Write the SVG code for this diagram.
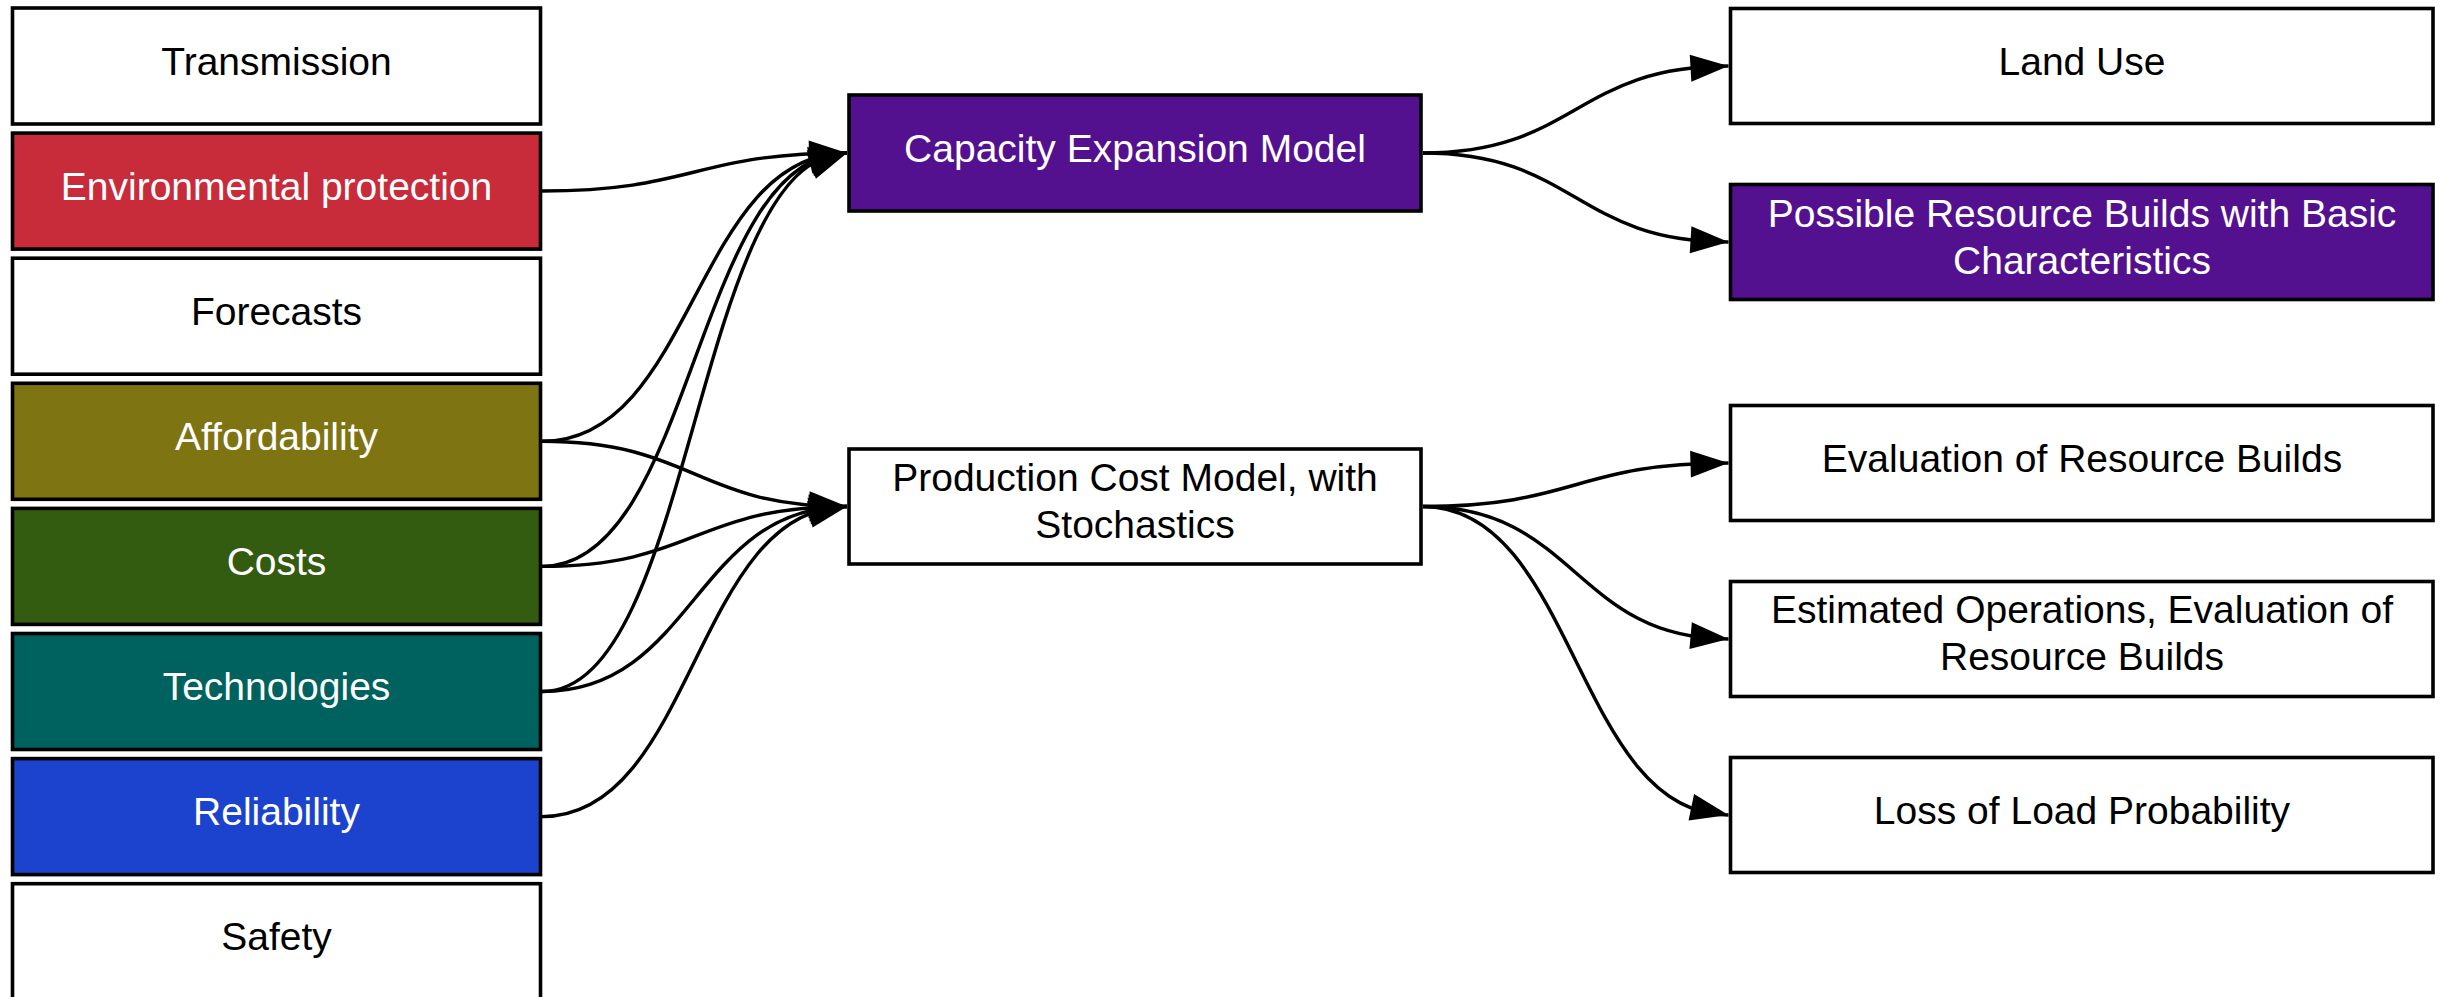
<svg xmlns="http://www.w3.org/2000/svg" xmlns:xlink="http://www.w3.org/1999/xlink" width="2445" height="997" viewBox="0 0 2445 997">
  <style>
    .box { stroke: #000; stroke-width: 3.6; }
    .plain { fill: #fff; }
    .red { fill: #C82C3A; }
    .olive { fill: #7E7411; }
    .green { fill: #345C10; }
    .teal { fill: #00625F; }
    .blue { fill: #1C43CE; }
    .purple { fill: #53118F; }
    text { font-family: "Liberation Sans", Arial, sans-serif; font-size: 39px; text-anchor: middle; }
    .dark { fill: #000; }
    .light { fill: #fff; }
    .link { fill: none; stroke: #000; stroke-width: 3.4; }
  </style>
  <defs>
    <!-- arrowhead, tip at the origin, pointing along +x -->
    <path id="ah" d="M0,0 L-38,-13.5 L-38,13.5 Z" fill="#000"/>
  </defs>
  <rect width="2445" height="997" fill="#fff"/>

  <!-- input factors -->
  <g id="transmission">
    <rect class="box plain" x="12.5" y="8" width="528" height="116"/>
    <text class="dark" x="276.5" y="74.5">Transmission</text>
  </g>
  <g id="environmental-protection">
    <rect class="box red" x="12.5" y="133.1" width="528" height="116"/>
    <text class="light" x="276.5" y="199.6">Environmental protection</text>
  </g>
  <g id="forecasts">
    <rect class="box plain" x="12.5" y="258.2" width="528" height="116"/>
    <text class="dark" x="276.5" y="324.7">Forecasts</text>
  </g>
  <g id="affordability">
    <rect class="box olive" x="12.5" y="383.3" width="528" height="116"/>
    <text class="light" x="276.5" y="449.8">Affordability</text>
  </g>
  <g id="costs">
    <rect class="box green" x="12.5" y="508.4" width="528" height="116"/>
    <text class="light" x="276.5" y="574.9">Costs</text>
  </g>
  <g id="technologies">
    <rect class="box teal" x="12.5" y="633.5" width="528" height="116"/>
    <text class="light" x="276.5" y="700">Technologies</text>
  </g>
  <g id="reliability">
    <rect class="box blue" x="12.5" y="758.6" width="528" height="116"/>
    <text class="light" x="276.5" y="825.1">Reliability</text>
  </g>
  <g id="safety">
    <rect class="box plain" x="12.5" y="883.7" width="528" height="116"/>
    <text class="dark" x="276.5" y="950.2">Safety</text>
  </g>

  <!-- models -->
  <g id="capacity-expansion-model">
    <rect class="box purple" x="849" y="95" width="572" height="116"/>
    <text class="light" x="1135" y="161.5">Capacity Expansion Model</text>
  </g>
  <g id="production-cost-model">
    <rect class="box plain" x="849" y="449" width="572" height="115"/>
    <text class="dark" x="1135" y="490.5">Production Cost Model, with</text>
    <text class="dark" x="1135" y="537.5">Stochastics</text>
  </g>

  <!-- outputs -->
  <g id="land-use">
    <rect class="box plain" x="1730.5" y="8.5" width="702.5" height="115"/>
    <text class="dark" x="2082" y="74.5">Land Use</text>
  </g>
  <g id="possible-resource-builds">
    <rect class="box purple" x="1730.5" y="184.5" width="702.5" height="115"/>
    <text class="light" x="2082" y="226.5">Possible Resource Builds with Basic</text>
    <text class="light" x="2082" y="273.5">Characteristics</text>
  </g>
  <g id="evaluation-of-resource-builds">
    <rect class="box plain" x="1730.5" y="405.5" width="702.5" height="115"/>
    <text class="dark" x="2082" y="471.5">Evaluation of Resource Builds</text>
  </g>
  <g id="estimated-operations">
    <rect class="box plain" x="1730.5" y="581.5" width="702.5" height="115"/>
    <text class="dark" x="2082" y="622.5">Estimated Operations, Evaluation of</text>
    <text class="dark" x="2082" y="669.5">Resource Builds</text>
  </g>
  <g id="loss-of-load-probability">
    <rect class="box plain" x="1730.5" y="757.5" width="702.5" height="115"/>
    <text class="dark" x="2082" y="823.5">Loss of Load Probability</text>
  </g>

  <!-- connectors -->
  <g id="connectors">
    <g id="env-to-cem">
      <path class="link" d="M542,191 C694.5,191 694.5,153 847,153"/>
      <use xlink:href="#ah" transform="translate(847,153) rotate(-1.5)"/>
    </g>
    <g id="aff-to-cem">
      <path class="link" d="M542,441.3 C694.5,441.3 694.5,153 847,153"/>
      <use xlink:href="#ah" transform="translate(847,153) rotate(-11)"/>
    </g>
    <g id="costs-to-cem">
      <path class="link" d="M542,566.4 C694.5,566.4 694.5,153 847,153"/>
      <use xlink:href="#ah" transform="translate(847,153) rotate(-15.6)"/>
    </g>
    <g id="tech-to-cem">
      <path class="link" d="M542,691.5 C694.5,691.5 694.5,153 847,153"/>
      <use xlink:href="#ah" transform="translate(847,153) rotate(-20)"/>
    </g>
    <g id="aff-to-pcm">
      <path class="link" d="M542,441.3 C694.5,441.3 694.5,506.5 847,506.5"/>
      <use xlink:href="#ah" transform="translate(847,506.5) rotate(2.5)"/>
    </g>
    <g id="costs-to-pcm">
      <path class="link" d="M542,566.4 C694.5,566.4 694.5,506.5 847,506.5"/>
      <use xlink:href="#ah" transform="translate(847,506.5) rotate(-2.3)"/>
    </g>
    <g id="tech-to-pcm">
      <path class="link" d="M542,691.5 C694.5,691.5 694.5,506.5 847,506.5"/>
      <use xlink:href="#ah" transform="translate(847,506.5) rotate(-7.1)"/>
    </g>
    <g id="rel-to-pcm">
      <path class="link" d="M542,816.6 C694.5,816.6 694.5,506.5 847,506.5"/>
      <use xlink:href="#ah" transform="translate(847,506.5) rotate(-11.8)"/>
    </g>
    <g id="cem-to-land">
      <path class="link" d="M1423,153 C1575.75,153 1575.75,66 1728.5,66"/>
      <use xlink:href="#ah" transform="translate(1728.5,66) rotate(-3.4)"/>
    </g>
    <g id="cem-to-builds">
      <path class="link" d="M1423,153 C1575.75,153 1575.75,242 1728.5,242"/>
      <use xlink:href="#ah" transform="translate(1728.5,242) rotate(3.5)"/>
    </g>
    <g id="pcm-to-eval">
      <path class="link" d="M1423,506.5 C1575.75,506.5 1575.75,463 1728.5,463"/>
      <use xlink:href="#ah" transform="translate(1728.5,463) rotate(-1.7)"/>
    </g>
    <g id="pcm-to-ops">
      <path class="link" d="M1423,506.5 C1575.75,506.5 1575.75,639 1728.5,639"/>
      <use xlink:href="#ah" transform="translate(1728.5,639) rotate(5.1)"/>
    </g>
    <g id="pcm-to-lolp">
      <path class="link" d="M1423,506.5 C1575.75,506.5 1575.75,815 1728.5,815"/>
      <use xlink:href="#ah" transform="translate(1728.5,815) rotate(11.8)"/>
    </g>
  </g>
</svg>
